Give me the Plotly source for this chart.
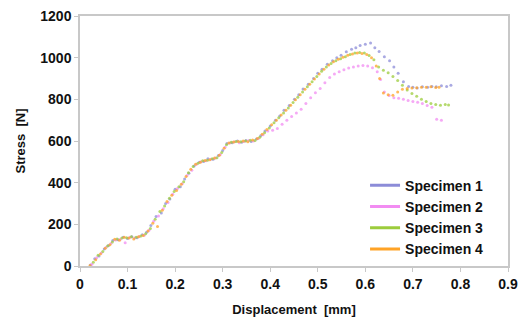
import plotly.graph_objects as go

# Specimen 1
x1 = [0.022, 0.031, 0.040, 0.051, 0.060, 0.069, 0.080, 0.091, 0.100, 0.109, 0.120, 0.131, 0.140, 0.149, 0.160, 0.171,
      0.180, 0.189, 0.200, 0.211, 0.220, 0.229, 0.240, 0.251, 0.260, 0.269, 0.280, 0.291, 0.300, 0.309, 0.320, 0.331,
      0.340, 0.349, 0.360, 0.371, 0.380, 0.389, 0.400, 0.411, 0.420, 0.429, 0.440, 0.451, 0.460, 0.469, 0.480, 0.491,
      0.500, 0.509, 0.520, 0.531, 0.540, 0.549, 0.560, 0.571, 0.580, 0.589, 0.600, 0.611, 0.620, 0.629, 0.640, 0.651,
      0.660, 0.669, 0.680, 0.691, 0.700, 0.709, 0.720, 0.731, 0.740, 0.749, 0.760, 0.771, 0.780]
y1 = [5, 35, 48, 82, 98, 122, 126, 138, 132, 141, 136, 150, 162, 195, 238, 255,
      300, 322, 368, 380, 418, 445, 480, 498, 502, 515, 512, 530, 555, 588, 592, 600,
      594, 603, 598, 610, 625, 648, 672, 700, 720, 748, 770, 800, 822, 850, 872, 900,
      925, 945, 968, 985, 1000, 1012, 1028, 1040, 1048, 1058, 1065, 1070, 1048, 1030, 1005, 985,
      955, 925, 885, 862, 858, 855, 860, 858, 862, 860, 865, 862, 868]

# Specimen 2
x2 = [0.025, 0.035, 0.045, 0.055, 0.065, 0.075, 0.085, 0.095, 0.105, 0.115, 0.125, 0.135, 0.145, 0.155, 0.165, 0.175,
      0.185, 0.195, 0.205, 0.215, 0.225, 0.235, 0.245, 0.255, 0.265, 0.275, 0.285, 0.295, 0.305, 0.315, 0.325, 0.335,
      0.345, 0.355, 0.365, 0.375, 0.385, 0.395, 0.405, 0.415, 0.425, 0.435, 0.445, 0.455, 0.465, 0.475, 0.485, 0.495,
      0.505, 0.515, 0.525, 0.535, 0.545, 0.555, 0.565, 0.575, 0.585, 0.595, 0.605, 0.615, 0.625, 0.632, 0.640, 0.650,
      0.660, 0.670, 0.680, 0.690, 0.700, 0.710, 0.720, 0.730, 0.740, 0.750, 0.760]
y2 = [8, 40, 62, 90, 108, 125, 128, 112, 138, 135, 142, 148, 172, 215, 240, 275,
      305, 345, 372, 395, 435, 460, 488, 500, 505, 512, 518, 535, 570, 590, 596, 592,
      598, 602, 600, 612, 630, 648, 652, 660, 680, 700, 718, 735, 752, 780, 808, 832,
      852, 880, 905, 922, 932, 942, 950, 955, 960, 962, 960, 952, 932, 895, 835, 818,
      808, 805, 800, 795, 790, 786, 780, 770, 762, 705, 700]

# Specimen 3
x3 = [0.028, 0.038, 0.048, 0.058, 0.068, 0.078, 0.088, 0.098, 0.108, 0.118, 0.128, 0.138, 0.148, 0.158, 0.168, 0.178,
      0.188, 0.198, 0.208, 0.218, 0.228, 0.238, 0.248, 0.258, 0.268, 0.278, 0.288, 0.298, 0.308, 0.318, 0.328, 0.338,
      0.348, 0.358, 0.368, 0.378, 0.388, 0.398, 0.408, 0.418, 0.428, 0.438, 0.448, 0.458, 0.468, 0.478, 0.488, 0.498,
      0.508, 0.518, 0.528, 0.538, 0.548, 0.558, 0.568, 0.578, 0.588, 0.598, 0.608, 0.618, 0.628, 0.638, 0.648, 0.658,
      0.668, 0.678, 0.688, 0.698, 0.708, 0.718, 0.728, 0.738, 0.748, 0.758, 0.768, 0.775]
y3 = [18, 52, 70, 96, 115, 130, 134, 136, 140, 138, 144, 155, 180, 225, 262, 288,
      325, 358, 380, 405, 448, 478, 493, 505, 508, 515, 520, 545, 582, 594, 598, 596,
      600, 604, 603, 618, 640, 662, 688, 712, 735, 758, 785, 810, 835, 860, 885, 910,
      935, 955, 972, 985, 995, 1005, 1015, 1022, 1025, 1022, 1010, 990, 955, 940, 928, 910,
      890, 868, 845, 828, 815, 800, 790, 780, 775, 772, 775, 773]

# Specimen 4
x4 = [0.021, 0.033, 0.043, 0.053, 0.063, 0.073, 0.083, 0.093, 0.103, 0.113, 0.123, 0.133, 0.143, 0.153, 0.163, 0.173,
      0.183, 0.193, 0.203, 0.213, 0.223, 0.233, 0.243, 0.253, 0.263, 0.273, 0.283, 0.293, 0.303, 0.313, 0.323, 0.333,
      0.343, 0.353, 0.363, 0.373, 0.383, 0.393, 0.403, 0.413, 0.423, 0.433, 0.443, 0.453, 0.463, 0.473, 0.483, 0.493,
      0.503, 0.513, 0.523, 0.533, 0.543, 0.553, 0.563, 0.573, 0.583, 0.593, 0.603, 0.613, 0.623, 0.630, 0.638, 0.648,
      0.658, 0.668, 0.678, 0.688, 0.698, 0.708, 0.718, 0.728, 0.738, 0.748, 0.755]
y4 = [2, 30, 58, 85, 102, 128, 124, 138, 135, 130, 140, 146, 168, 205, 190, 268,
      310, 340, 362, 392, 430, 465, 488, 498, 506, 510, 518, 532, 565, 590, 595, 598,
      600, 597, 605, 612, 632, 655, 678, 700, 725, 748, 772, 798, 822, 848, 872, 898,
      922, 945, 965, 980, 992, 1002, 1012, 1018, 1022, 1020, 1015, 1000, 960, 900, 830, 822,
      820, 835, 848, 852, 855, 856, 858, 858, 860, 857, 858]

names = ["Specimen 1", "Specimen 2", "Specimen 3", "Specimen 4"]
colors = ["#8c8cd8", "#f28cf2", "#9ccc3c", "#ffa326"]
xs = [x1, x2, x3, x4]
ys = [y1, y2, y3, y4]

x_ticks = [0, 0.1, 0.2, 0.3, 0.4, 0.5, 0.6, 0.7, 0.8, 0.9]
x_tick_text = ["0", "0.1", "0.2", "0.3", "0.4", "0.5", "0.6", "0.7", "0.8", "0.9"]
y_ticks = [0, 200, 400, 600, 800, 1000, 1200]

fig = go.Figure()
for n, c, x, y in zip(names, colors, xs, ys):
    fig.add_trace(go.Scatter(x=x, y=y, mode="markers", name=n, showlegend=False,
                             marker=dict(color=c, size=3, opacity=0.75, line=dict(width=0))))
for n, c in zip(names, colors):
    fig.add_trace(go.Scatter(x=[None], y=[None], mode="lines", name=n,
                             line=dict(color=c, width=3)))

font_family = "Liberation Sans, Arial, sans-serif"
fig.update_layout(
    width=524, height=320,
    margin=dict(l=80, r=16, t=16, b=54),
    paper_bgcolor="white", plot_bgcolor="white",
    font=dict(family=font_family, color="#111111"),
    showlegend=True,
    legend=dict(x=0.666, y=0.005, xanchor="left", yanchor="bottom",
                font=dict(size=14, family=font_family, weight="bold", color="#111111"),
                bgcolor="rgba(0,0,0,0)", itemwidth=30, tracegroupgap=0),
)
fig.update_xaxes(range=[0, 0.9], tickvals=x_ticks, ticktext=x_tick_text, automargin=False,
                 ticklabeloverflow="allow",
                 showgrid=False, zeroline=False, showline=True, linecolor="#c8c8c8", linewidth=1.5,
                 mirror=True, ticks="outside", ticklen=4, tickcolor="#c8c8c8",
                 tickfont=dict(size=14, family=font_family, weight="bold", color="#111111"),
                 title=dict(text="Displacement  [mm]", font=dict(size=13, family=font_family, weight="bold"),
                            standoff=14))
fig.update_yaxes(range=[0, 1200], tickvals=y_ticks, automargin=False,
                 ticklabeloverflow="allow",
                 showgrid=False, zeroline=False, showline=True, linecolor="#c8c8c8", linewidth=1.5,
                 mirror=True, ticks="outside", ticklen=4, tickcolor="#c8c8c8",
                 tickfont=dict(size=14, family=font_family, weight="bold", color="#111111"),
                 title=dict(text="Stress  [N]", font=dict(size=13, family=font_family, weight="bold"),
                            standoff=12))

# remove the default page margin so the figure sits at the window's top-left corner
fig.write_html("out.html", config={"displayModeBar": False},
               post_script="document.body.style.margin='0';")
